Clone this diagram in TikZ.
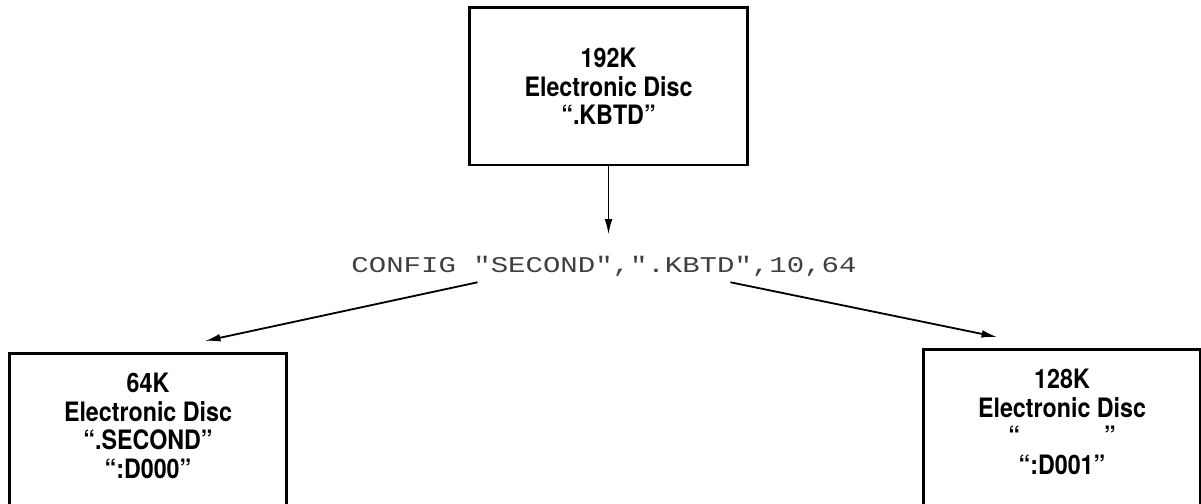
\documentclass[tikz,border=0pt]{standalone}
\usepackage{fontspec}
\usetikzlibrary{arrows.meta,calc,positioning}
\newfontfamily\discfont[FakeStretch=0.87]{TeX Gyre Heros}
\newfontfamily\dotfont[FakeStretch=1.29,Ligatures=ResetAll]{Liberation Mono}

\begin{document}
\begin{tikzpicture}[x=0.025cm, y=-0.025cm, >={Latex[length=11pt,width=5.5pt]},
  disc/.style={draw, line width=2.1pt, minimum width=6.93cm, align=center,
    font=\discfont\bfseries\fontsize{19}{20.2}\selectfont},
  cmd/.style={font=\dotfont\fontsize{16}{18}\selectfont, text=black!75,
    inner xsep=0pt, inner ysep=0.25cm, text depth=0pt},
  flow/.style={->, line width=1.3pt}]
  \useasboundingbox (0,0) rectangle (1201,504);
  \clip (0,0) rectangle (1201,504);
  % disc holding the whole memory
  \node[disc, minimum height=3.925cm] (kbtd) at (608.5,86.5) {192K\\Electronic Disc\\“.KBTD”};
  % the command that splits it
  \node[cmd, anchor=base] (config) at (604,272) {CONFIG "SECOND",".KBTD",10,64};
  % the two discs after the split
  \node[disc, anchor=north, inner ysep=0.5cm, text depth=4cm] (second) at (148,352)
       {64K\\Electronic Disc\\“.SECOND”\\“:D000”};
  \node[disc, anchor=north, inner ysep=0.5cm, text depth=4cm] (rest) at (1062,348)
       {128K\\Electronic Disc\\“\hspace{2.1cm}”\\“:D001”};
  \draw[flow, shorten >=0.27cm] (kbtd.south) -- (kbtd.south |- config.north);
  \draw[flow] ($(config.south)!0.5!(config.south west)$) -- ($(second.north)+(57,-11)$);
  \draw[flow] ($(config.south)!0.5!(config.south east)$) -- ($(rest.north)+(-65,-11)$);
\end{tikzpicture}
\end{document}
